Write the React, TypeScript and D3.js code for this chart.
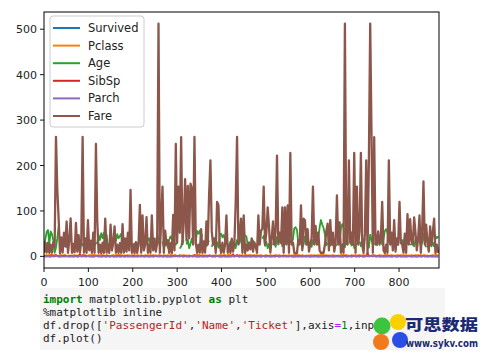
import React from "react";
import * as d3 from "d3";

// df.plot() of the titanic frame, every 3rd row
const STEP = 3;

const fare = [
  7.3, 31, 8.1, 30.1, 7.9, 26, 8.1, 31, 21.1, 263,
  146.5, 82.2, 7.2, 41.6, 8.1, 52, 21.7, 76.7, 7.9, 35.5,
  83.5, 7.9, 27.7, 8.7, 73.5, 10.5, 46.9, 7.8, 34.4, 263,
  8.1, 39.7, 7.9, 79.7, 13, 34.7, 7.8, 52, 7.9, 247.5,
  78, 7.9, 26, 7.2, 30, 7.8, 83.2, 8.1, 26, 7.9,
  69.6, 13, 31, 66, 7.9, 26, 7.8, 29, 7.9, 71,
  8.1, 39.6, 10.5, 52, 13, 146.5, 7.9, 26.3, 7.2, 31.4,
  7.9, 26, 113.3, 8.1, 90, 13, 26, 86.5, 7.8, 26,
  7.9, 90, 13, 39, 10.5, 30.5, 512.3, 7.8, 79.2, 153.5,
  7.9, 56.5, 26.3, 35.5, 7.8, 29, 7.2, 91.1, 13, 247.5,
  30.5, 153.5, 52, 262.4, 26.6, 77, 170, 35, 155, 39.6,
  160, 150, 26, 263, 30, 7.8, 26, 8.1, 60, 7.8,
  33, 8.1, 77, 26, 135.6, 211.5, 55, 26, 39.7, 7.9,
  120, 113.3, 26, 7.9, 30, 8.1, 26, 90, 7.8, 26,
  7.9, 39, 10.5, 29, 120, 263, 26, 53, 83, 7.8,
  90, 7.2, 26, 13, 30.5, 15.5, 39.6, 10.5, 31, 21,
  7.8, 90, 26, 56, 61, 153.5, 26, 52, 108, 65,
  8.1, 39, 77, 26, 55.9, 221.8, 26.6, 52, 30, 108,
  7.8, 108, 26, 112, 7.9, 227.5, 26, 30, 7.8, 7.2,
  7.9, 35.5, 26, 112, 13.5, 83, 79, 26, 60, 10.5,
  26, 39.7, 153.5, 26, 67, 26, 52, 13, 7.2, 8.1,
  7.9, 26, 55, 72, 13, 80, 26, 52, 10.5, 29,
  134, 26, 75, 7.9, 26, 7.8, 512.3, 30, 26, 211.3,
  30, 52, 26, 227.5, 7.9, 153.5, 26, 55, 227.5, 26,
  7.8, 49.5, 211.3, 7.9, 211.3, 512.3, 262.4, 7.8, 262.4, 26,
  30, 55, 26, 39.6, 120, 13, 7.2, 26, 7.8, 211.3,
  26, 52, 13, 80, 10.5, 39.7, 26, 120, 30, 26,
  8.1, 50, 7.8, 93, 26, 82, 33, 26, 86, 52,
  13, 39.7, 90, 7.8, 55, 164.9, 26, 70, 30, 10.5,
  66, 26, 52, 83, 7.2, 26, 7.9,
];

const age = [
  22, 38, 54, 58, 27, 55, 49, 34, 8, 19,
  40, 66, null, 14, null, null, 28, 21, 25, 28,
  null, 25, 22, 29, null, 36, 33, null, 24, 28,
  19, null, 32, 17, 30, 22, null, 21, 24, 29,
  30, 47, 36, 51, 40, 52, 28, 48, 24, null,
  25, 18, 30, null, 33, 49, 40, 45, 50, 22,
  36, null, 21, 29, 18, 35, 24, null, 30, 19,
  27, 30, 42, 36, 29, 44, 39, 42, 35, 40,
  24, 32, null, 16, 28, 49, 36, 21, null, 33,
  20, 24, 31, 19, 36, 44, 38, 43, 29, 26,
  30, null, 17, 22, 35, 31, null, 26, 37, 18,
  28, 39, 25, null, 33, 56, 50, 57, 41, 48,
  null, 26, 22, 30, 35, null, 21, 29, 38, 24,
  31, 19, 48, 50, 42, 47, 36, 27, null, 23,
  33, 25, null, 30, 18, 36, 28, 30, 42, 48,
  50, 46, 44, 24, null, 30, 22, 35, 27, null,
  19, 31, 26, null, 39, 45, 23, 32, 18, 28,
  25, null, 25, 36, 21, 43, 30, null, 34, 22,
  29, 42, 40, 41, 24, 35, 30, 38, 62, 64,
  58, 27, null, 33, 18, 26, 44, 31, 24, null,
  32, 21, 36, 27, null, 29, 40, 64, 80, 70,
  62, 48, 24, 30, null, 22, 36, 29, 18, 24,
  26, null, 33, 61, 71, 65, 20, 34, 28, null,
  30, 24, 39, 18, 25, 27, null, 33, 22, 36,
  28, 40, null, 31, 19, 48, 36, 25, 30, null,
  23, 35, 29, 42, 26, 38, 56, 60, 52, 31,
  null, 27, 39, 21, 33, 30, 24, null, 30, 36,
  19, 41, 28, 34, null, 25, 27, 30, 22, 38,
  27, null, 35, 24, 31, 50, 29, 20, null, 33,
  26, 22, 30, 22, 45, 40, 44,
];

const survived = [
  0,1,1,1,0,0,0,1,0,1, 1,0,0,1,0,1,0,0,1,0, 0,1,0,1,1,0,0,1,0,0,
  1,0,0,1,0,1,0,0,0,1, 1,0,1,0,0,1,0,0,1,0, 0,1,0,0,1,0,1,0,0,1,
  0,0,1,0,1,1,0,0,0,1, 0,1,0,0,1,0,0,1,0,0, 1,0,0,1,1,0,0,0,1,0,
  0,1,0,0,1,0,0,1,1,0, 1,1,0,1,0,0,1,0,1,0, 1,1,0,1,0,0,0,0,1,0,
  0,0,1,0,1,1,0,0,1,0, 1,1,0,0,0,1,0,0,0,1, 0,1,0,0,1,1,0,0,1,0,
  1,0,0,0,1,0,0,1,0,0, 0,1,0,0,1,1,0,0,1,1, 0,0,1,0,0,1,0,0,1,1,
  0,1,0,1,0,1,0,0,0,0, 1,0,0,1,0,1,1,0,0,0, 0,0,1,0,1,0,0,0,1,0,
  0,0,1,0,0,1,1,0,0,1, 1,0,1,0,0,0,1,0,0,1, 0,0,1,1,0,1,0,0,1,0,
  0,0,1,0,1,1,1,0,1,0, 0,1,0,0,1,0,0,1,0,1, 0,0,0,1,0,0,0,1,0,0,
  1,0,0,1,0,1,0,0,1,0, 0,0,1,0,0,1,0,1,0,0, 1,0,0,1,0,0,0,
];

const pclass = [
  3,2,3,1,3,3,3,2,3,1, 1,1,3,3,1,3,3,1,1,2, 1,2,2,3,1,2,3,3,1,1,
  3,3,1,1,3,2,3,3,3,1, 1,3,2,3,3,2,1,3,2,1, 1,2,3,1,3,3,3,3,3,1,
  2,2,2,3,2,1,3,2,3,1, 3,2,1,3,1,1,3,1,3,2, 3,1,3,2,2,1,1,3,1,1,
  3,2,1,3,1,3,3,1,3,1, 1,1,3,1,2,3,1,2,1,2, 1,1,2,1,3,3,3,3,1,3,
  2,2,1,2,1,1,1,2,1,3, 1,1,3,3,2,3,3,1,3,3, 3,2,2,1,1,1,2,3,1,3,
  1,3,3,2,3,3,2,2,3,2, 3,1,2,3,1,1,2,3,1,1, 3,2,1,2,3,1,2,3,1,1,
  3,1,2,1,3,1,2,2,3,3, 3,3,2,1,3,1,1,2,1,2, 2,3,1,3,1,2,3,2,3,3,
  3,2,3,1,2,1,2,3,2,1, 1,2,1,3,3,3,1,3,2,1, 1,3,2,1,3,1,2,3,1,2,
  3,2,1,3,1,1,1,3,1,2, 1,1,3,2,1,2,3,3,3,1, 2,3,2,1,2,2,3,1,3,2,
  3,2,3,1,2,1,3,2,1,3, 2,3,1,3,2,1,3,1,2,1, 1,2,3,1,3,3,2,
];

const sibsp = [
  1,0,0,1,0,0,3,0,1,3, 1,0,0,0,1,0,1,1,0,0, 1,0,0,0,1,0,0,4,0,3,
  0,1,0,1,0,0,0,0,0,2, 1,0,0,0,0,1,0,0,1,0, 0,1,0,0,0,0,1,0,0,1,
  0,0,1,0,0,0,0,1,0,0, 0,0,1,0,1,0,0,1,0,0, 0,1,0,0,1,0,2,0,1,0,
  0,1,0,0,0,0,0,1,0,2, 0,1,0,1,0,0,1,0,0,0, 1,0,0,3,0,0,0,0,1,0,
  0,1,0,0,2,1,0,0,0,0, 1,0,0,0,0,1,0,0,0,0, 0,0,5,0,1,3,0,0,1,0,
  0,0,0,1,0,0,0,1,0,0, 0,1,0,0,0,1,0,0,1,0, 0,0,0,1,0,1,0,0,0,1,
  0,1,0,0,0,1,0,0,0,0, 0,0,1,0,0,0,0,0,1,0, 0,0,0,0,1,0,0,0,0,0,
  0,1,0,1,0,0,0,0,0,0, 1,0,0,0,0,0,2,0,0,0, 1,0,0,1,0,0,1,0,1,0,
  0,0,1,8,0,1,1,0,2,0, 0,1,0,0,0,0,0,0,0,1, 0,0,0,1,0,0,0,1,0,0,
  0,0,0,0,1,0,0,0,1,0, 0,0,1,0,0,2,0,0,0,0, 1,0,0,0,0,0,0,
];

const parch = [
  0,0,0,0,0,0,1,0,1,2, 0,0,0,0,0,0,0,1,0,0, 0,0,0,0,0,0,0,2,0,2,
  0,0,0,1,0,0,0,0,0,1, 0,0,0,0,0,0,0,0,0,0, 0,1,0,0,0,0,0,0,0,0,
  0,0,0,0,0,1,0,0,0,0, 0,0,1,0,0,0,0,0,0,0, 0,0,0,0,2,0,1,0,0,0,
  0,0,0,0,0,0,0,0,0,2, 0,0,0,2,0,0,0,1,0,0, 0,1,0,2,0,0,0,0,0,0,
  0,0,0,0,0,2,0,0,0,0, 2,0,0,0,0,0,0,0,0,0, 0,0,2,0,0,2,0,0,0,0,
  0,0,0,0,0,0,0,0,0,0, 0,0,0,0,0,1,0,0,0,0, 0,0,0,0,0,2,0,0,0,0,
  0,0,0,0,0,1,0,0,0,0, 0,0,0,0,0,0,0,0,1,0, 0,0,0,0,0,0,0,0,0,0,
  0,0,0,0,0,0,0,0,0,0, 0,0,0,0,0,0,0,0,0,1, 0,0,0,2,0,0,0,0,2,0,
  0,0,1,2,0,0,2,0,2,0, 0,0,0,0,0,0,0,0,0,0, 0,0,0,1,0,0,0,0,0,0,
  0,0,0,0,1,0,0,0,0,0, 0,0,0,0,0,1,0,0,0,0, 0,0,0,0,0,0,0,
];

const seriesNames = ["Survived", "Pclass", "Age", "SibSp", "Parch", "Fare"];
const seriesColors = ["#1f77b4", "#ff7f0e", "#2ca02c", "#d62728", "#9467bd", "#8c564b"];
const xTicks = [0, 100, 200, 300, 400, 500, 600, 700, 800];
const yTicks = [0, 100, 200, 300, 400, 500];

const mono = "'DejaVu Sans Mono', monospace";
const sans = "'DejaVu Sans', sans-serif";

export default function App() {
  const x = d3.scaleLinear().domain([0, 890]).range([44, 439]);
  const y = d3.scaleLinear().domain([-25.6, 537.9]).range([268, 12]);

  const line = d3
    .line<number | null>()
    .defined((d) => d != null)
    .x((d, i) => x(i * STEP))
    .y((d) => y(d as number));

  const series = [survived, pclass, age, sibsp, parch, fare];

  return (
    <svg width={484} height={354} style={{ position: "absolute", left: 0, top: 0, background: "#fff" }}>
      <defs>
        <clipPath id="plotclip">
          <rect x={44} y={12} width={395} height={256} />
        </clipPath>
      </defs>

      <g clipPath="url(#plotclip)">
        {series.map((s, i) => (
          <path key={seriesNames[i]} d={line(s) || ""} fill="none" stroke={seriesColors[i]}
            strokeWidth={seriesNames[i] === "Fare" ? 2.3 : 1.8} strokeLinejoin="round" />
        ))}
      </g>

      {/* frame */}
      <rect x={44} y={12} width={395} height={256} fill="none" stroke="#000" strokeWidth={1} />

      {/* axes */}
      {xTicks.map((t) => (
        <g key={"x" + t}>
          <line x1={x(t)} x2={x(t)} y1={268} y2={272} stroke="#000" strokeWidth={0.9} />
          <text x={x(t)} y={286} textAnchor="middle" fontFamily={sans} fontSize={11} fill="#222">{t}</text>
        </g>
      ))}
      {yTicks.map((t) => (
        <g key={"y" + t}>
          <line x1={40} x2={44} y1={y(t)} y2={y(t)} stroke="#000" strokeWidth={0.9} />
          <text x={37} y={y(t) + 4} textAnchor="end" fontFamily={sans} fontSize={11} fill="#222">{t}</text>
        </g>
      ))}

      {/* legend */}
      <rect x={50} y={16} width={94} height={111} rx={3} fill="#fff" fillOpacity={0.85} stroke="#ccc" />
      {seriesNames.map((n, i) => (
        <g key={"lg" + n}>
          <line x1={53} x2={80} y1={28 + i * 17.6} y2={28 + i * 17.6} stroke={seriesColors[i]} strokeWidth={2} />
          <text x={88} y={28 + i * 17.6 + 4} fontFamily={sans} fontSize={11.5} fill="#222">{n}</text>
        </g>
      ))}

      {/* notebook cell */}
      <rect x={40} y={288} width={405} height={62} fill="#f5f5f5" />
      <g fontFamily={mono} fontSize={11} fill="#222">
        <text x={43} y={303}>
          <tspan fill="#008000" fontWeight="bold">import</tspan> matplotlib.pyplot <tspan fill="#008000" fontWeight="bold">as</tspan> plt
        </text>
        <text x={43} y={316}>%matplotlib inline</text>
        <text x={43} y={329}>
          df.drop([<tspan fill="#ba2121">'PassengerId'</tspan>,<tspan fill="#ba2121">'Name'</tspan>,<tspan fill="#ba2121">'Ticket'</tspan>],axis<tspan fill="#aa22ff">=</tspan><tspan fill="#008000">1</tspan>,inp
        </text>
        <text x={43} y={342}>df.plot()</text>
      </g>

      {/* watermark */}
      <circle cx={382} cy={326} r={8.5} fill="#3cc43c" />
      <circle cx={398} cy={322} r={8} fill="#f7d100" />
      <circle cx={381} cy={342} r={8} fill="#f07a1c" />
      <circle cx={400} cy={340} r={8} fill="#2b4ee6" />
      <text x={405} y={330} fontFamily="'Noto Sans CJK SC', sans-serif" fontWeight="900" fontSize={15}
        fill="#1b2a72" textLength={73} lengthAdjust="spacingAndGlyphs">可思数据</text>
      <text x={406} y={347} fontFamily={sans} fontWeight="bold" fontSize={10}
        fill="#1b2a72" textLength={72} lengthAdjust="spacingAndGlyphs">www.sykv.com</text>
    </svg>
  );
}
